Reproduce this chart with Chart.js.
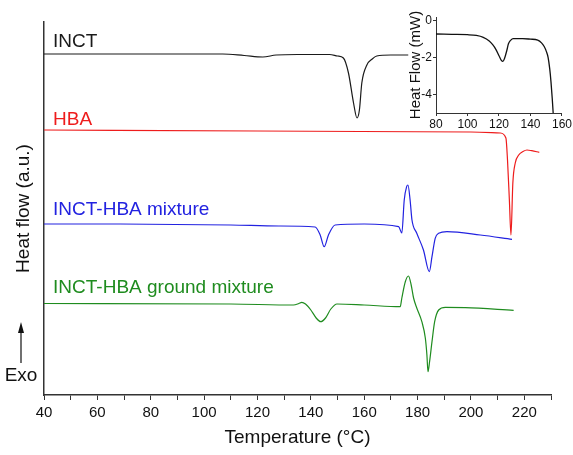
<!DOCTYPE html>
<html>
<head>
<meta charset="utf-8">
<script src="https://cdn.jsdelivr.net/npm/chart.js@4"></script>
<style>
  body { margin: 0; background: #fff; }
  #wrap { position: relative; width: 573px; height: 455px; }
  #mainChart { position: absolute; left: 0; top: 0; }
  #insetChart { position: absolute; left: 400px; top: 0; }
</style>
</head>
<body>
<div id="wrap">
  <canvas id="mainChart" width="573" height="455"></canvas>
  <canvas id="insetChart" width="173" height="135"></canvas>
</div>
<script>
// DSC curves, heat flow in arbitrary units (stacked offsets)
const inctTemp = [40, 80, 107, 115, 122, 127, 135, 147, 150, 152.2, 154.1, 156, 157.3, 158.2, 159.1, 161, 163, 164.7, 170, 176.5];
const inctFlow = [341, 341, 341, 339.5, 338, 340, 340.5, 340.5, 339, 337, 322, 292, 277, 285, 312, 330, 336, 339, 340, 340];

const hbaTemp = [40, 120, 200, 211, 213.1, 213.7, 214.4, 215, 215.7, 216.6, 217.9, 219.5, 221, 222.8, 225.6];
const hbaFlow = [265, 264, 263, 262, 257, 235, 195, 160, 212, 232, 240, 243.5, 245, 244.3, 242.7];

const mixTemp = [40, 68.5, 110, 128, 141.6, 143.5, 145, 146.6, 149.1, 160, 172.9, 174.1, 175, 175.9, 176.4, 177.2, 177.9, 179.7, 182.2, 184.4, 185.4, 186.6, 187.9, 191, 203.5, 215.4];
const mixFlow = [171, 171, 170, 169, 168, 160, 148.3, 160, 170, 171, 168.3, 162, 195, 208.3, 210, 195, 175, 161.7, 145, 123.3, 138.3, 156.7, 161.7, 163.3, 160, 155.7];

const groundTemp = [40, 110, 133.5, 135.5, 136.6, 138, 140, 142, 143.7, 145.5, 147.5, 149.8, 160, 173.5, 174.1, 175.4, 176.6, 177.6, 178.5, 179.7, 181.6, 182.9, 183.5, 183.9, 184.5, 185.4, 186.4, 187.9, 190.4, 197.9, 216];
const groundFlow = [91.5, 91, 90, 91.5, 92.7, 91, 85, 77, 73.3, 77, 86, 91, 90, 88.3, 97, 113.3, 119, 110, 97, 87, 73.3, 57, 40, 23.3, 33.3, 53.3, 73.3, 85, 87.7, 87.3, 84.7];

// inset: INCT heat flow in mW
const insetTemp = [80, 90, 100, 105.6, 110, 113.8, 116, 118, 120, 121.5, 122.5, 123.5, 125, 126, 127.5, 129, 135, 140, 144.6, 147, 148.7, 150, 151.2, 152.2, 153, 153.8, 154.4];
const insetFlow = [-0.72, -0.74, -0.76, -0.8, -0.9, -1.1, -1.3, -1.55, -1.9, -2.15, -2.2, -2.05, -1.6, -1.25, -1.05, -0.97, -0.97, -1.0, -1.05, -1.2, -1.4, -1.65, -2.0, -2.6, -3.3, -4.2, -5.0];

const SERIES = [
  { name: 'INCT', temp: inctTemp, flow: inctFlow, color: '#1a1a1a', labelFlow: 348 },
  { name: 'HBA', temp: hbaTemp, flow: hbaFlow, color: '#ee1c1c', labelFlow: 270 },
  { name: 'INCT-HBA mixture', temp: mixTemp, flow: mixFlow, color: '#2222e0', labelFlow: 180 },
  { name: 'INCT-HBA ground mixture', temp: groundTemp, flow: groundFlow, color: '#1f8c1f', labelFlow: 102 }
];

const FONT = 'Liberation Sans, Arial, sans-serif';
Chart.defaults.font.family = FONT;
Chart.defaults.color = '#111';

function toPoints(xs, ys) {
  return xs.map((x, i) => ({ x, y: ys[i] }));
}

const seriesLabels = {
  id: 'seriesLabels',
  afterDatasetsDraw(chart) {
    const { ctx, scales } = chart;
    ctx.save();
    ctx.font = `19px ${FONT}`;
    ctx.textBaseline = 'alphabetic';
    ctx.textAlign = 'left';
    SERIES.forEach((s) => {
      ctx.fillStyle = s.color;
      ctx.fillText(s.name, scales.x.getPixelForValue(43.4), scales.y.getPixelForValue(s.labelFlow));
    });

    // Exo arrow under the y title
    const ax = 21;
    ctx.strokeStyle = '#111';
    ctx.fillStyle = '#111';
    ctx.lineWidth = 1.2;
    ctx.beginPath();
    ctx.moveTo(ax, 363);
    ctx.lineTo(ax, 330);
    ctx.stroke();
    ctx.beginPath();
    ctx.moveTo(ax, 322);
    ctx.lineTo(ax - 3, 333);
    ctx.lineTo(ax + 3, 333);
    ctx.closePath();
    ctx.fill();
    ctx.font = `19px ${FONT}`;
    ctx.textAlign = 'center';
    ctx.textBaseline = 'middle';
    ctx.fillText('Exo', ax, 376);
    ctx.restore();
  }
};

new Chart(document.getElementById('mainChart'), {
  type: 'line',
  data: {
    datasets: SERIES.map((s) => ({
      label: s.name,
      data: toPoints(s.temp, s.flow),
      borderColor: s.color,
      borderWidth: 1.2,
      pointRadius: 0,
      cubicInterpolationMode: 'monotone'
    }))
  },
  options: {
    responsive: false,
    animation: false,
    devicePixelRatio: 1,
    layout: { padding: { top: 22, right: 22, left: 0, bottom: 0 } },
    plugins: { legend: { display: false }, tooltip: { enabled: false } },
    scales: {
      x: {
        type: 'linear',
        min: 40,
        max: 230,
        afterFit: (scale) => { scale.height = 60; },
        ticks: {
          stepSize: 10,
          autoSkip: false,
          maxRotation: 0,
          padding: 4,
          font: { size: 15 },
          color: '#111',
          callback: (v) => (v % 20 === 0 ? String(v) : '')
        },
        grid: { drawOnChartArea: false, tickLength: 5, color: '#333' },
        border: { color: '#333', width: 1.5 },
        title: {
          display: true,
          text: 'Temperature (\u00B0C)',
          font: { size: 19 },
          color: '#111',
          padding: { top: 4, bottom: 6 }
        }
      },
      y: {
        type: 'linear',
        min: 0,
        max: 373,
        afterFit: (scale) => { scale.width = 44; },
        ticks: { display: false },
        grid: { display: false },
        border: { display: true, color: '#333', width: 1.5 },
        title: {
          display: true,
          text: 'Heat flow (a.u.)',
          font: { size: 19 },
          color: '#111',
          padding: { top: 12, bottom: 0 }
        }
      }
    }
  },
  plugins: [seriesLabels]
});

new Chart(document.getElementById('insetChart'), {
  type: 'line',
  data: {
    datasets: [{
      label: 'INCT',
      data: toPoints(insetTemp, insetFlow),
      borderColor: '#111',
      borderWidth: 1.3,
      pointRadius: 0,
      cubicInterpolationMode: 'monotone'
    }]
  },
  options: {
    responsive: false,
    animation: false,
    devicePixelRatio: 1,
    layout: { padding: { top: 17, right: 8, left: 0, bottom: 0 } },
    plugins: { legend: { display: false }, tooltip: { enabled: false } },
    scales: {
      x: {
        type: 'linear',
        min: 80,
        max: 160,
        afterFit: (scale) => { scale.height = 22; },
        ticks: { stepSize: 20, maxRotation: 0, padding: 1, font: { size: 12 }, color: '#111' },
        grid: { drawOnChartArea: false, tickLength: 3, color: '#333' },
        border: { color: '#333', width: 1 }
      },
      y: {
        type: 'linear',
        min: -5,
        max: 0.2,
        afterFit: (scale) => { scale.width = 36; },
        ticks: { stepSize: 2, includeBounds: false, padding: 1, font: { size: 12 }, color: '#111' },
        grid: { drawOnChartArea: false, tickLength: 3, color: '#333' },
        border: { color: '#333', width: 1 },
        title: {
          display: true,
          text: 'Heat Flow (mW)',
          font: { size: 15 },
          color: '#111',
          padding: { top: 7, bottom: 0 }
        }
      }
    }
  }
});
</script>
</body>
</html>
